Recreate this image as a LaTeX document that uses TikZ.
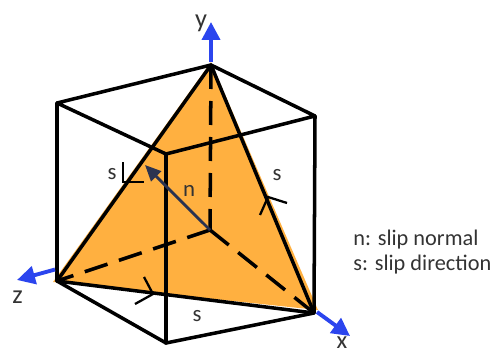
\documentclass[tikz,border=0pt]{standalone}
\usepackage{fontspec}
\setmainfont{Carlito}
\usetikzlibrary{arrows.meta}
\definecolor{planeorange}{HTML}{FFB040}
\definecolor{axisblue}{HTML}{2B45EE}
\definecolor{normalnavy}{HTML}{2B3350}
\definecolor{labelgray}{HTML}{333333}
\tikzset{
  edge/.style={draw=black,line width=2pt,line cap=round,line join=round},
  hidden/.style={edge,line cap=butt,dash pattern=on 0.48cm off 0.24cm},
  tick/.style={draw=black,line width=1.3pt},
  axis/.style={draw=axisblue,line width=2.2pt,-{Triangle[length=0.36cm,width=0.36cm]}},
  label/.style={text=labelgray,font=\fontsize{13}{15}\selectfont,inner sep=0pt}
}
\begin{document}
\begin{tikzpicture}[x=1cm,y=1cm]
\useasboundingbox (0,0) rectangle (9.82,7.04);
% corners of the cube
\coordinate (ytop) at (4.22,5.74);
\coordinate (ltop) at (1.14,4.98);
\coordinate (ftop) at (3.32,3.96);
\coordinate (rtop) at (6.30,4.72);
\coordinate (xend) at (6.28,0.78);
\coordinate (zend) at (1.14,1.42);
\coordinate (fbot) at (3.32,0.18);
\coordinate (orig) at (4.20,2.44);

% slip plane
\fill[planeorange] (4.22,5.80) -- (1.06,1.40) -- (6.36,0.84) -- cycle;

% cube
\draw[edge] (ltop) -- (ytop) -- (rtop) -- (ftop) -- cycle;
\draw[edge] (ltop) -- (zend) -- (fbot) -- (xend) -- (rtop);
\draw[edge] (ftop) -- (fbot);
\draw[edge] (ytop) -- (zend) -- (xend) -- cycle;
\draw[hidden] (ytop) -- (orig);
\draw[hidden] (orig) -- (zend);
\draw[hidden] (orig) -- (xend);

% axes
\coordinate (ytip) at (4.22,6.60);
\coordinate (ztip) at (0.34,1.44);
\coordinate (xtip) at (7.00,0.32);
\draw[axis] (4.22,5.80) -- (ytip);
\draw[axis] (1.10,1.65) -- (ztip);
\draw[axis] (6.34,0.80) -- (xtip);
\node[label,font=\fontsize{15}{17}\selectfont] (ylab) at (4.02,6.58) {y};
\node[label,font=\fontsize{15}{17}\selectfont] (zlab) at (0.35,1.09) {z};
\node[label,font=\fontsize{14}{16}\selectfont] (xlab) at (6.84,0.18) {x};

% slip normal
\coordinate (ntip) at (2.90,3.74);
\draw[draw=normalnavy,line width=1.6pt,-{Triangle[length=0.32cm,width=0.28cm]}] (orig) -- (ntip);
\node[label] (nlab) at (3.78,3.22) {n};

% slip direction marks
\coordinate (lmark) at (2.46,3.40);
\draw[tick] (2.46,3.80) -- (lmark) -- (2.88,3.40);
\coordinate (bmark) at (3.06,1.16);
\draw[tick] (2.88,1.50) -- (bmark) -- (2.70,0.96);
\coordinate (rmark) at (5.36,3.10);
\draw[tick] (5.20,2.74) -- (rmark) -- (5.74,2.98);
\node[label] (slab) at (2.24,3.56) {s};
\node[label] (sbot) at (3.94,0.72) {s};
\node[label] (srgt) at (5.54,3.54) {s};

% legend
\node[label,anchor=west,align=left,font=\fontsize{12.7}{14.2}\selectfont] (legend) at (7.06,2.00) {n: slip normal\\s: slip direction};
\end{tikzpicture}
\end{document}
